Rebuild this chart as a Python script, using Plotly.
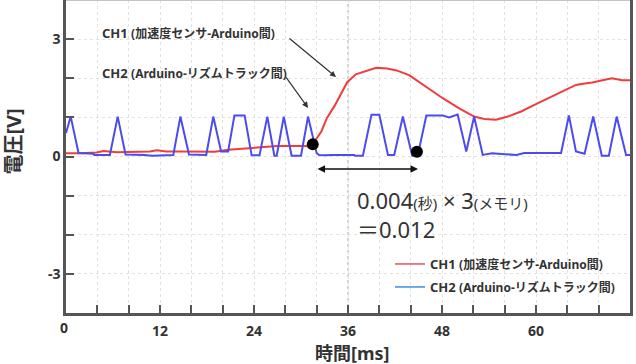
import plotly.graph_objects as go

# ---------------- data ----------------
time_ch1 = [0, 1.8, 3.9, 4.8, 6.5, 8, 10.7, 11.6, 12.8, 15, 17, 19, 20.7, 23, 24.9, 27, 30, 31.3,
            32.6, 33.3, 34.3, 35.9, 37, 38.4, 39.6, 41, 42.2, 43.8, 46, 48.1, 50.2, 52.1, 53.4,
            54.9, 56.4, 58.1, 59.6, 60.6, 62, 63.4, 65.1, 66, 67.2, 68.5, 69.7, 71, 72]
volt_ch1 = [0.08, 0.08, 0.1, 0.14, 0.11, 0.12, 0.13, 0.16, 0.13, 0.13, 0.12, 0.12, 0.17, 0.2, 0.23, 0.27, 0.27, 0.26,
            0.64, 0.98, 1.3, 1.9, 2.1, 2.2, 2.27, 2.25, 2.2, 2.08, 1.78, 1.49, 1.23, 1.02, 0.96,
            0.94, 1.02, 1.15, 1.3, 1.4, 1.52, 1.66, 1.83, 1.86, 1.89, 1.95, 2.0, 1.95, 1.95]

time_ch2 = [0, 0.6, 1.6, 3.5, 3.6, 5.6, 6.6, 7.6, 10, 11, 13.7, 14.6, 15.7, 17.9, 18.8, 19.8, 20.7,
            21.5, 22.8, 23.7, 24.7, 25.7, 26.6, 26.9, 27.8, 28.8, 30, 30.9, 32.0, 32.3, 33, 34,
            36.8, 36.9, 37.9, 39, 40, 41.1, 41.9, 43, 44.2, 44.9, 46, 48.1, 48.9, 50, 51.1, 52.1,
            53.2, 54.4, 56, 57.5, 58.5, 63.2, 64.2, 65.1, 66.2, 67.3, 68.4, 69.3, 70.3, 71.5, 72]
volt_ch2 = [0.6, 1.02, 0.09, 0.07, 0.04, 0.04, 1.02, 0.05, 0.04, 0.02, 0.04, 1.02, 0.05, 0.04, 1.02, 0.13, 0.13,
            1.05, 1.05, 0.03, 0.03, 1.02, 0.02, 0.02, 1.02, 0.02, 0.02, 1.02, 0.085, 0.04, 0.03, 0.04,
            0.04, 0.02, 0.02, 1.07, 1.07, 0.04, 0.04, 1.02, 0.02, 0.02, 1.05, 1.05, 1.0, 1.07, 0.13, 1.02,
            0.04, 0.08, 0.06, 0.04, 0.09, 0.09, 1.05, 0.13, 0.07, 1.02, 0.02, 0.02, 1.02, 0.04, 0.04]

marker_t = [31.5, 44.8]
marker_v = [0.31, 0.12]

x_tickvals = [0, 4, 8, 12, 16, 20, 24, 28, 32, 36, 40, 44, 48, 52, 56, 60, 64, 68, 72]
x_ticktext = ["", "", "", "12", "", "", "24", "", "", "36", "", "", "48", "", "", "60", "", "", ""]
y_tickvals = [-4, -3, -2, -1, 0, 1, 2, 3, 4]
y_ticktext = ["", "-3", "", "", "0", "", "", "3", ""]

ch1_name = "CH1"
ch1_desc = "(加速度センサ-Arduino間)"
ch2_name = "CH2"
ch2_desc = "(Arduino-リズムトラック間)"

FONT = "'Noto Sans', 'Noto Sans CJK JP', sans-serif"
TXT = "#333333"
RED = "#f03c3c"
BLUE = "#4b4bef"
LEG_RED = "#e8505c"
LEG_BLUE = "#3d8fdc"
AXC = "#555555"


def label(name, desc):
    return f"<b>{name} <span style='font-size:12px'>{desc}</span></b>"


fig = go.Figure()

fig.add_trace(go.Scatter(x=time_ch1, y=volt_ch1, mode="lines",
                         line=dict(color=RED, width=2), showlegend=False))
fig.add_trace(go.Scatter(x=time_ch2, y=volt_ch2, mode="lines",
                         line=dict(color=BLUE, width=2), showlegend=False))
fig.add_trace(go.Scatter(x=marker_t, y=marker_v, mode="markers",
                         marker=dict(color="black", size=12), showlegend=False))

# legend entries
fig.add_trace(go.Scatter(x=[None], y=[None], mode="lines", line=dict(color=LEG_RED, width=1.5),
                         name=label(ch1_name, ch1_desc), legend="legend"))
fig.add_trace(go.Scatter(x=[None], y=[None], mode="lines", line=dict(color=LEG_BLUE, width=1.5),
                         name=label(ch2_name, ch2_desc), legend="legend2"))

# crosshair
fig.add_shape(type="line", x0=36, x1=36, y0=-4, y1=4, xref="x", yref="y",
              line=dict(color="#a8a8a8", width=1, dash="dot"), layer="below")
fig.add_shape(type="line", x0=0, x1=72, y0=0, y1=0, xref="x", yref="y",
              line=dict(color="#a8a8a8", width=1, dash="dot"), layer="below")
# top border (light)
fig.add_shape(type="line", x0=0, x1=1, y0=1, y1=1, xref="paper", yref="paper",
              line=dict(color="#c4c4c4", width=2))

ann = []
# series labels with arrows
ann.append(dict(x=4.3, y=3.16, xref="x", yref="y", text=label(ch1_name, ch1_desc),
                showarrow=False, xanchor="left", yanchor="middle",
                font=dict(family=FONT, size=13, color=TXT)))
ann.append(dict(x=4.3, y=2.13, xref="x", yref="y", text=label(ch2_name, ch2_desc),
                showarrow=False, xanchor="left", yanchor="middle",
                font=dict(family=FONT, size=13, color=TXT)))
ann.append(dict(x=34.47, y=2.03, ax=28.34, ay=3.05, xref="x", yref="y", axref="x", ayref="y",
                text="", showarrow=True, arrowhead=2, arrowsize=1, arrowwidth=1.2, arrowcolor="#333"))
ann.append(dict(x=30.9, y=1.24, ax=27.96, ay=2.06, xref="x", yref="y", axref="x", ayref="y",
                text="", showarrow=True, arrowhead=2, arrowsize=1, arrowwidth=1.2, arrowcolor="#333"))
# double arrow
ann.append(dict(x=44.94, y=-0.32, ax=31.92, ay=-0.32, xref="x", yref="y", axref="x", ayref="y",
                text="", showarrow=True, arrowhead=2, startarrowhead=2, arrowside="end+start",
                arrowsize=1, startarrowsize=1, arrowwidth=1.5, arrowcolor="#111"))
# computation text
ann.append(dict(x=36.9, y=-1.47, xref="x", yref="y", xanchor="left", yanchor="middle", align="left",
                text="0.004<span style='font-size:15px'>(秒)</span> × 3<span style='font-size:15px'>(メモリ)</span><br>＝0.012",
                showarrow=False, font=dict(family=FONT, size=22, color=TXT)))
# axis titles
ann.append(dict(x=0, y=(313 - 141.5) / 313, xref="paper", yref="paper", xshift=-53,
                text="<b>電圧[V]</b>", textangle=-90, showarrow=False, xanchor="center", yanchor="middle",
                font=dict(family=FONT, size=20, color=TXT)))
ann.append(dict(x=(352 - 66) / 564, y=0, xref="paper", yref="paper", yshift=-39.5,
                text="<b>時間[ms]</b>", showarrow=False, xanchor="center", yanchor="middle",
                font=dict(family=FONT, size=18, color=TXT)))
# origin label on x axis
ann.append(dict(x=0, y=0, xref="paper", yref="paper", xshift=-2, yshift=-14,
                text="<b>0</b>", showarrow=False, xanchor="center", yanchor="middle",
                font=dict(family=FONT, size=14, color=TXT)))

fig.update_layout(
    width=636, height=364,
    margin=dict(l=66, r=6, t=0, b=51),
    paper_bgcolor="white", plot_bgcolor="white",
    font=dict(family=FONT, color=TXT),
    annotations=ann,
    legend=dict(x=(390 - 66) / 564, y=(313 - 264) / 313, xanchor="left", yanchor="middle",
                bgcolor="rgba(0,0,0,0)", font=dict(family=FONT, size=13, color=TXT)),
    legend2=dict(x=(390 - 66) / 564, y=(313 - 287) / 313, xanchor="left", yanchor="middle",
                 bgcolor="rgba(0,0,0,0)", font=dict(family=FONT, size=13, color=TXT)),
    xaxis=dict(range=[0, 72], tickmode="array", tickvals=x_tickvals, ticktext=x_ticktext,
               showline=True, linecolor=AXC, linewidth=2.5, mirror=False,
               ticks="inside", ticklen=8, tickwidth=1.5, tickcolor=AXC, ticklabelstandoff=3,
               showgrid=True, gridcolor="#e2e2e2", griddash="dot", gridwidth=1,
               zeroline=False, tickfont=dict(family=FONT, size=14, color=TXT, weight="bold")),
    yaxis=dict(range=[-4, 4], tickmode="array", tickvals=y_tickvals, ticktext=y_ticktext,
               showline=True, linecolor=AXC, linewidth=2.5, mirror=True,
               ticks="inside", ticklen=8, tickwidth=1.5, tickcolor=AXC,
               showgrid=True, gridcolor="#e2e2e2", griddash="dot", gridwidth=1,
               zeroline=False, tickfont=dict(family=FONT, size=14, color=TXT, weight="bold")),
)

fig.write_html("out.html")
